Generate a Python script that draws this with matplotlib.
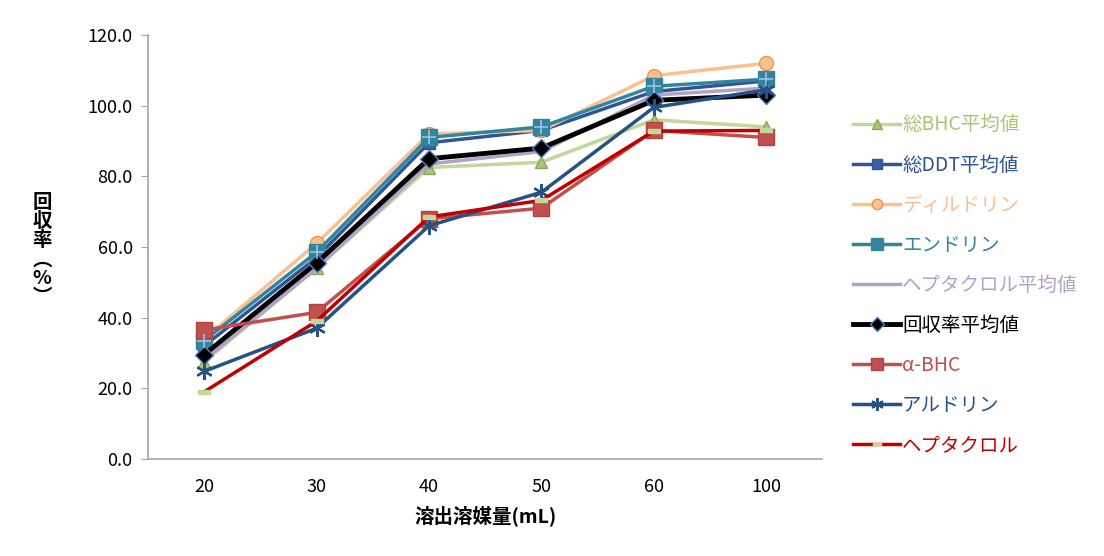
import numpy as np
import matplotlib.pyplot as plt
from matplotlib.path import Path

plt.rcParams['font.family'] = ['Noto Sans CJK JP', 'DejaVu Sans']

# 溶出溶媒量 (mL)
volumes = ["20", "30", "40", "50", "60", "100"]

# 回収率 (%)
bhc_avg = [27.5, 54.0, 82.5, 84.0, 96.0, 94.0]
ddt_avg = [32.0, 57.0, 89.5, 93.0, 104.0, 107.0]
dieldrin = [34.0, 61.0, 92.0, 93.0, 108.5, 112.0]
endrin = [33.5, 58.5, 91.0, 94.0, 105.5, 107.5]
hepta_avg = [28.0, 54.0, 83.5, 87.0, 103.0, 105.0]
total_avg = [29.5, 55.5, 85.0, 88.0, 101.5, 103.0]
alpha_bhc = [36.5, 41.5, 68.0, 71.0, 93.0, 91.0]
aldrin = [24.8, 37.0, 66.0, 75.5, 99.5, 104.5]
heptachlor = [19.0, 39.0, 68.5, 73.2, 92.8, 93.0]

x = np.arange(len(volumes))

# 横長の長方形マーカー
rect = Path([(-1, -0.3), (1, -0.3), (1, 0.3), (-1, 0.3), (-1, -0.3)],
            [Path.MOVETO, Path.LINETO, Path.LINETO, Path.LINETO, Path.CLOSEPOLY])

fig = plt.figure(figsize=(11.04, 5.56), dpi=100)
ax = fig.add_axes([0.134, 0.1745, 0.611, 0.7625])

series = [
    ("総BHC平均値", bhc_avg, dict(color="#c3d69b", marker="^", ms=9, mfc="#a9c673", mec="#8aa85a", lw=2.5)),
    ("総DDT平均値", ddt_avg, dict(color="#2f5597", marker="s", ms=9, mfc="#3a5f9a", mec="#2f5597", lw=2.5)),
    ("ディルドリン", dieldrin, dict(color="#fac090", marker="o", ms=10, mfc="#fac090", mec="#e8964a", lw=2.5)),
    ("エンドリン", endrin, dict(color="#31859c", marker="s", ms=11, mfc="#31859c", mec="#31859c", lw=2.5)),
    ("ヘプタクロル平均値", hepta_avg, dict(color="#b3a2c7", marker="None", lw=2.5)),
    ("回収率平均値", total_avg, dict(color="black", marker="D", ms=9, mfc="black", mec="#4f81bd", lw=3.5)),
    ("α-BHC", alpha_bhc, dict(color="#c0504d", marker="s", ms=11, mfc="#c0504d", mec="#b04440", lw=2.5)),
    ("アルドリン", aldrin, dict(color="#255185", marker=(6, 2, 0), ms=12, mew=1.6, lw=2.5)),
    ("ヘプタクロル", heptachlor, dict(color="#c00000", marker=rect, ms=8, mfc="#c4d79b", mec="#c4d79b", lw=2.5)),
]

for name, vals, kw in series:
    ax.plot(x, vals, label=name, **kw)
# エンドリンの十字
ax.plot(x, endrin, ls="none", marker="+", ms=10, mew=1.2, color="#9dc3e6")

ax.set_xlim(-0.5, len(volumes) - 0.5)
ax.set_ylim(0, 120)
ax.set_yticks(np.arange(0, 121, 20))
ax.set_yticklabels([f"{v:.1f}" for v in np.arange(0, 121, 20)], fontsize=13)
ax.set_xticks(x)
ax.set_xticklabels(volumes, fontsize=13)
ax.tick_params(axis="x", length=0, pad=14)
ax.tick_params(axis="y", length=5, color="#a6a6a6", pad=6)
for s in ["top", "right"]:
    ax.spines[s].set_visible(False)
for s in ["left", "bottom"]:
    ax.spines[s].set_color("#a6a6a6")
    ax.spines[s].set_linewidth(1.2)

ax.set_xlabel("溶出溶媒量(mL)", fontsize=14, fontweight="bold", labelpad=6)
fig.text(0.038, 0.55, "回\n収\n率\n︵\n%\n︶", fontsize=14, fontweight="bold",
         ha="center", va="center", linespacing=1.0)

leg = ax.legend(loc="center left", bbox_to_anchor=(1.02, 0.41), frameon=False,
                fontsize=14, handlelength=2.4, labelspacing=0.98, handletextpad=0.1,
                markerscale=0.75)
for text, (name, vals, kw) in zip(leg.get_texts(), series):
    text.set_color(kw["color"] if name != "総BHC平均値" else "#a9c673")

fig.savefig("out.png", dpi=100)
